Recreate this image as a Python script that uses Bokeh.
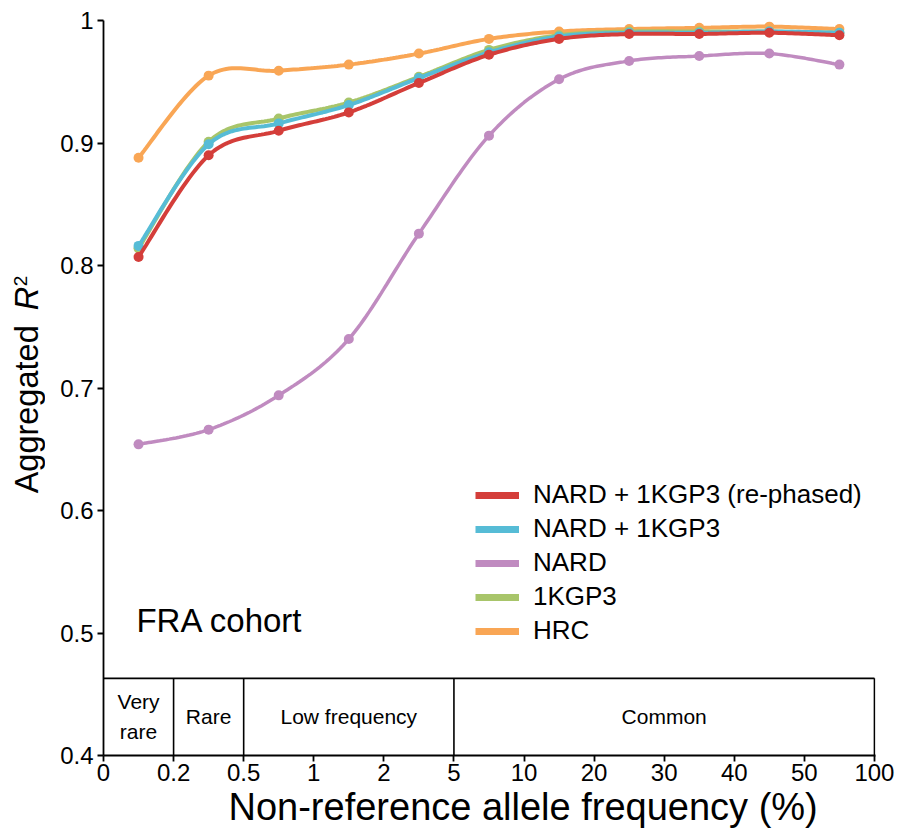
import numpy as np
from bokeh.plotting import figure
from bokeh.layouts import row
from bokeh.models import ColumnDataSource, FixedTicker, Legend, LegendItem, Label, Range1d, Title
from bokeh.core.properties import value
from bokeh.embed import file_html
from bokeh.resources import INLINE

# ---------------- data ----------------
tick_labels = ["0", "0.2", "0.5", "1", "2", "5", "10", "20", "30", "40", "50", "100"]
bins = ["0-0.2", "0.2-0.5", "0.5-1", "1-2", "2-5", "5-10", "10-20", "20-30", "30-40", "40-50", "50-100"]

y_ticks = [0.4, 0.5, 0.6, 0.7, 0.8, 0.9, 1.0]
y_tick_labels = ["0.4", "0.5", "0.6", "0.7", "0.8", "0.9", "1"]

nard_1kgp3_rephased = [0.807, 0.890, 0.910, 0.925, 0.949, 0.972, 0.985, 0.989, 0.989, 0.990, 0.988]
nard_1kgp3 = [0.816, 0.899, 0.916, 0.931, 0.953, 0.974, 0.987, 0.990, 0.990, 0.991, 0.990]
nard = [0.654, 0.666, 0.694, 0.740, 0.826, 0.906, 0.952, 0.967, 0.971, 0.973, 0.964]
kgp3 = [0.814, 0.901, 0.920, 0.933, 0.954, 0.976, 0.988, 0.991, 0.991, 0.991, 0.990]
hrc = [0.888, 0.955, 0.959, 0.964, 0.973, 0.985, 0.991, 0.993, 0.994, 0.995, 0.993]

series_names = ["NARD + 1KGP3 (re-phased)", "NARD + 1KGP3", "NARD", "1KGP3", "HRC"]

groups = ["Very\nrare", "Rare", "Low frequency", "Common"]
group_edges = ["0", "0.2", "0.5", "5", "100"]

x_title = "Non-reference allele frequency (%)"
y_title_parts = ["Aggregated", "R", "2"]

# ---------------- style ----------------
FONT = "Liberation Sans"
colors = {
    "NARD + 1KGP3 (re-phased)": "#D43E3A",
    "NARD + 1KGP3": "#56BCD6",
    "NARD": "#C08BC0",
    "1KGP3": "#A8C56A",
    "HRC": "#F9A655",
}
series = {
    "NARD + 1KGP3 (re-phased)": nard_1kgp3_rephased,
    "NARD + 1KGP3": nard_1kgp3,
    "NARD": nard,
    "1KGP3": kgp3,
    "HRC": hrc,
}
draw_order = ["HRC", "1KGP3", "NARD", "NARD + 1KGP3", "NARD + 1KGP3 (re-phased)"]
BOX_TOP = 0.463
TOP, BOTTOM = 20, 78
LEFT_W = 45


def smooth(xs, ys, n=24):
    """Smoothed (Catmull-Rom / Bezier) path through the data points, for drawing."""
    xs = np.asarray(xs, float)
    ys = np.asarray(ys, float)
    px = np.concatenate([[xs[0]], xs, [xs[-1]]])
    py = np.concatenate([[ys[0]], ys, [ys[-1]]])
    t = np.linspace(0, 1, n, endpoint=False)
    ox, oy = [], []
    for i in range(len(xs) - 1):
        p0x, p1x, p2x, p3x = px[i], px[i + 1], px[i + 2], px[i + 3]
        p0y, p1y, p2y, p3y = py[i], py[i + 1], py[i + 2], py[i + 3]
        c1x, c1y = p1x + (p2x - p0x) / 6, p1y + (p2y - p0y) / 6
        c2x, c2y = p2x - (p3x - p1x) / 6, p2y - (p3y - p1y) / 6
        a, b, c, d = (1 - t) ** 3, 3 * (1 - t) ** 2 * t, 3 * (1 - t) * t ** 2, t ** 3
        ox.extend(a * p1x + b * c1x + c * c2x + d * p2x)
        oy.extend(a * p1y + b * c1y + c * c2y + d * p2y)
    ox.append(xs[-1])
    oy.append(ys[-1])
    return ox, oy


x_pos = [i + 0.5 for i in range(len(bins))]
y_range = Range1d(0.4, 1.0)

p = figure(
    width=897 - LEFT_W, height=833,
    x_range=Range1d(0, len(bins) + 0.015), y_range=y_range,
    output_backend="svg", toolbar_location=None,
    min_border_left=103 - LEFT_W, min_border_right=22, min_border_top=TOP, min_border_bottom=BOTTOM,
)
p.xgrid.visible = False
p.ygrid.visible = False
p.outline_line_color = None
p.background_fill_color = "white"
p.border_fill_color = "white"

# axes
for ax in (p.xaxis[0], p.yaxis[0]):
    ax.axis_line_color = "black"
    ax.axis_line_width = 1.8
    ax.major_tick_line_color = "black"
    ax.major_tick_line_width = 1.8
    ax.major_tick_out = 6
    ax.major_tick_in = 0
    ax.minor_tick_line_color = None
    ax.major_label_text_font = FONT
    ax.major_label_text_font_size = "24px"
    ax.major_label_text_color = "black"

p.xaxis.ticker = FixedTicker(ticks=list(range(len(tick_labels))))
p.xaxis.major_label_overrides = {i: lab for i, lab in enumerate(tick_labels)}
p.xaxis.major_label_standoff = 2

p.yaxis.ticker = FixedTicker(ticks=y_ticks)
p.yaxis.major_label_overrides = {t: lab for t, lab in zip(y_ticks, y_tick_labels)}
p.yaxis.major_label_standoff = 4

# x-axis title (shifted right like the reference)
p.add_layout(Title(text=x_title, align="left", offset=125, standoff=0,
                   text_font=FONT, text_font_size="38px", text_font_style="normal",
                   text_color="black"), "below")

# category box at the bottom
edge_idx = [tick_labels.index(e) for e in group_edges]
p.segment(x0=[edge_idx[0]], y0=[BOX_TOP], x1=[edge_idx[-1]], y1=[BOX_TOP], line_color="black", line_width=1.6)
p.segment(x0=edge_idx[1:], y0=[0.4] * (len(edge_idx) - 1), x1=edge_idx[1:], y1=[BOX_TOP] * (len(edge_idx) - 1),
          line_color="black", line_width=1.6)
gsrc = ColumnDataSource(dict(
    x=[(edge_idx[i] + edge_idx[i + 1]) / 2 for i in range(len(groups))],
    y=[(0.4 + BOX_TOP) / 2] * len(groups),
    text=groups,
))
p.text(x="x", y="y", text="text", source=gsrc, text_font=value(FONT), text_font_size="21px",
       text_align="center", text_baseline="middle", text_line_height=1.3, text_color="black")

# series
for name in draw_order:
    ys = series[name]
    sx, sy = smooth(x_pos, ys)
    lw = 3.5 if name == "NARD" else 4
    p.line(sx, sy, line_color=colors[name], line_width=lw)
    p.scatter(x_pos, ys, size=10, fill_color=colors[name], line_color=colors[name], line_width=0)

# legend (thick swatches only)
items = []
for name in series_names:
    r = p.line(x=[np.nan], y=[np.nan], line_color=colors[name], line_width=7)
    items.append(LegendItem(label=name, renderers=[r]))
legend = Legend(
    items=items, location=(372, 109),
    label_text_font=FONT, label_text_font_size="26px", label_text_color="black",
    label_height=26, glyph_height=26, glyph_width=44, spacing=3, label_standoff=14,
    padding=0, margin=0, border_line_color=None, background_fill_alpha=0,
)
p.add_layout(legend, "center")

# cohort label
p.add_layout(Label(x=0.47, y=0.51, text="FRA cohort", text_font=FONT, text_font_size="33px",
                   text_baseline="alphabetic", text_align="left", text_color="black"))

# ---------------- y-axis title panel: "Aggregated R²" ----------------
t = figure(
    width=LEFT_W, height=833, x_range=Range1d(0, LEFT_W), y_range=y_range,
    output_backend="svg", toolbar_location=None,
    min_border_left=0, min_border_right=0, min_border_top=TOP, min_border_bottom=BOTTOM,
)
t.axis.visible = False
t.xgrid.visible = False
t.ygrid.visible = False
t.outline_line_color = None
t.background_fill_color = "white"
t.border_fill_color = "white"
ysrc = ColumnDataSource(dict(
    x=[26, 26, 20],
    y=[0.614, 0.7635, 0.783],
    text=y_title_parts,
    size=["32.5px", "32.5px", "19px"],
    style=["normal", "italic", "normal"],
))
t.text(x="x", y="y", text="text", source=ysrc, angle=np.pi / 2, text_align="left",
       text_baseline="middle", text_font=value(FONT), text_font_size="size",
       text_font_style="style", text_color="black")

layout = row(t, p, spacing=0)
open("out.html", "w").write(file_html(layout, INLINE))
